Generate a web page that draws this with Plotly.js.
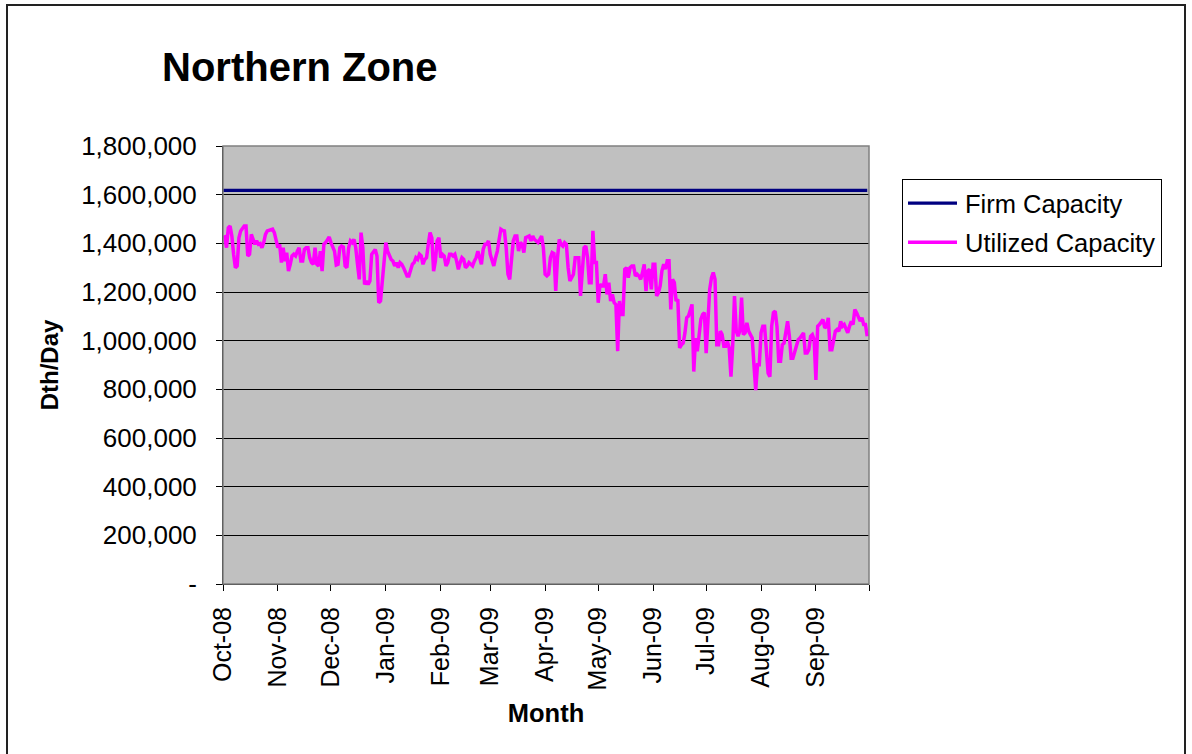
<!DOCTYPE html>
<html><head><meta charset="utf-8">
<script src="https://cdn.plot.ly/plotly-3.0.1.min.js"></script>
<style>
html,body{margin:0;padding:0;background:#fff;}
#wrap{position:relative;width:1192px;height:754px;overflow:hidden;}
#chart{width:1192px;height:754px;}
#frame{position:absolute;left:6px;top:4px;width:1176px;height:800px;border:2px solid #222;pointer-events:none;}
</style></head><body>
<div id="wrap"><div id="chart"></div><div id="frame"></div></div>
<script>
const startDate = '2008-10-01';
const firmCapacity = 1618000;
// Utilized capacity, thousands of Dth/Day, daily Oct 1 2008 - Sep 30 2009
const utilizedK = [
1423,1426,1382,1464,1471,1430,1355,1300,1307,1423,
1451,1464,1471,1471,1348,1355,1437,1416,1396,1410,
1396,1399,1382,1403,1437,1451,1453,1458,1458,1444,
1416,1382,1396,1321,1382,1327,1362,1286,1314,1348,
1355,1348,1368,1382,1327,1327,1375,1382,1382,1341,
1321,1314,1382,1314,1307,1368,1286,1396,1403,1416,
1426,
1403,1382,1368,1311,1314,1382,1389,1385,1307,1300,
1382,1410,1403,1416,1382,1314,1252,1444,1382,1231,
1245,1231,1245,1355,1368,1375,1348,1156,1163,1245,
1327,1403,1368,1348,1334,1327,1307,1321,1300,1321,
1314,1300,1279,1266,1266,1293,1314,1321,1341,1334,
1355,1348,1314,1334,1341,1396,1444,1423,1286,1327,
1410,1423,
1341,1355,1348,1307,1321,1355,1355,1348,1355,1327,
1293,1321,1341,1334,1300,1307,1321,1314,1307,1327,
1341,1368,1341,1314,1375,1396,1396,1410,1355,1327,
1307,1341,1368,1416,1458,1453,1451,1382,1273,1252,
1327,1410,1430,1430,1368,1403,1396,1362,1423,1426,
1430,1410,1430,1416,1410,1403,1416,1430,1382,1273,
1266,1273,1341,1362,1358,1204,1341,1416,1396,1389,
1403,1396,1300,1245,1259,1273,1341,1341,1341,1184,
1273,1382,1389,1341,1238,1238,1451,1321,1321,1156,
1231,1225,1225,1273,1190,1238,1163,1190,1156,1149,
957,1163,1108,1108,1293,1300,1259,1300,1307,1307,
1266,1273,1266,1252,1279,1314,1204,1286,1293,1211,
1314,1314,1184,1197,1225,
1287,1314,1294,1328,1328,1128,1252,1239,1163,1170,
970,983,990,1032,1094,1101,1121,1149,873,1011,
956,1018,1087,1108,1115,949,1108,1211,1259,1280,
1252,983,983,1039,1025,977,977,997,970,852,
983,1183,1039,1018,1039,1177,1025,1032,1073,1039,
1025,1011,901,797,901,901,1032,1059,1059,977,
866,852,
1059,1115,1121,1059,915,915,983,990,1032,1080,
1018,928,928,956,983,1004,1011,1025,1032,949,
949,963,1018,1025,1004,839,1059,1066,1080,1087,
1052,1059,1094,963,963,1011,1039,1046,1039,1080,
1059,1066,1052,1032,1059,1080,1066,1128,1115,1101,
1080,1094,1066,1066,1018
];
const monthTicks = ['2008-10-01','2008-11-01','2008-12-01','2009-01-01','2009-02-01','2009-03-01',
  '2009-04-01','2009-05-01','2009-06-01','2009-07-01','2009-08-01','2009-09-01','2009-10-01'];
const monthLabels = ['Oct-08','Nov-08','Dec-08','Jan-09','Feb-09','Mar-09',
  'Apr-09','May-09','Jun-09','Jul-09','Aug-09','Sep-09',''];
const yTicks = [0,200000,400000,600000,800000,1000000,1200000,1400000,1600000,1800000];
const yLabels = ['-','200,000','400,000','600,000','800,000','1,000,000','1,200,000','1,400,000','1,600,000','1,800,000'];

const dates = [];
const d0 = new Date(startDate + 'T00:00:00Z');
for (let i = 0; i < utilizedK.length; i++) {
  const d = new Date(d0.getTime() + i * 86400000);
  dates.push(d.toISOString().slice(0, 10));
}
const utilized = utilizedK.map(v => v * 1000);
const firm = dates.map(() => firmCapacity);

const FONT = "'Liberation Sans', Arial, sans-serif";

const traces = [
  {x: dates, y: firm, type: 'scatter', mode: 'lines', name: 'Firm Capacity',
   line: {color: '#000080', width: 3.2}, legendgroup: 'a'},
  {x: dates, y: utilized, type: 'scatter', mode: 'lines', name: 'Utilized Capacity',
   line: {color: '#FF00FF', width: 3.5}, legendgroup: 'b'}
];

const layout = {
  width: 1192, height: 754,
  margin: {l: 223, r: 323, t: 146, b: 170, pad: 0},
  paper_bgcolor: '#ffffff',
  plot_bgcolor: '#C0C0C0',
  font: {family: FONT, color: '#000', size: 25},
  title: {text: 'Northern Zone', xref: 'container', yref: 'container',
    x: 162/1192, xanchor: 'left', y: 1 - 67/754, yanchor: 'middle',
    font: {family: FONT, size: 40, weight: 700, color: '#000'}},
  xaxis: {
    type: 'date', range: ['2008-10-01', '2009-10-01'],
    tickmode: 'array', tickvals: monthTicks, ticktext: monthLabels,
    tickangle: -90, ticks: 'outside', ticklen: 6, tickcolor: '#000', tickwidth: 1,
    showgrid: false, zeroline: false,
    showline: true, linecolor: '#000', linewidth: 1, mirror: false,
    tickfont: {family: FONT, size: 25, color: '#000'},
    ticklabelstandoff: 6,
    title: {text: 'Month', font: {family: FONT, size: 25.5, weight: 700}, standoff: 14}
  },
  yaxis: {
    range: [0, 1800000], tickmode: 'array', tickvals: yTicks, ticktext: yLabels,
    ticks: 'outside', ticklen: 6, tickcolor: '#000', tickwidth: 1,
    showgrid: true, gridcolor: '#000', gridwidth: 1, zeroline: false,
    showline: true, linecolor: '#000', linewidth: 1,
    tickfont: {family: FONT, size: 26, color: '#000'},
    ticklabelstandoff: 14,
    title: {text: 'Dth/Day', font: {family: FONT, size: 24, weight: 700}, standoff: 15}
  },
  shapes: [
    {type: 'rect', xref: 'paper', yref: 'paper', x0: 0, x1: 1, y0: 0, y1: 1,
     line: {color: '#808080', width: 1.5}, fillcolor: 'rgba(0,0,0,0)', layer: 'above'}
  ],
  legend: {
    x: (902 - 223) / 646, y: (584 - 179) / 438, xanchor: 'left', yanchor: 'top',
    bgcolor: '#ffffff', bordercolor: '#000', borderwidth: 1,
    font: {family: FONT, size: 25.5, color: '#000'},
    traceorder: 'grouped', tracegroupgap: 3, itemwidth: 52
  },
  showlegend: true
};

Plotly.newPlot('chart', traces, layout, {displayModeBar: false, staticPlot: true}).then(function (gd) {
  // lengthen legend line samples to match the reference swatch length
  gd.querySelectorAll('.legend .legendlines path').forEach(function (p) {
    p.setAttribute('d', 'M5,0h49');
  });
});
</script>
</body></html>
